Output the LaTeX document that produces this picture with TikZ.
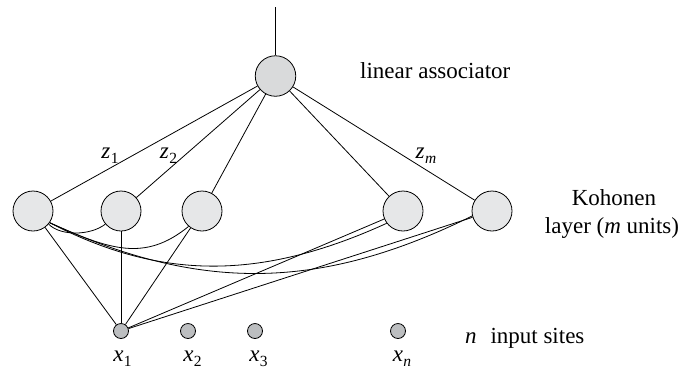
\documentclass[tikz,border=0pt]{standalone}
\usepackage{fontspec}
\setmainfont{Liberation Serif}
\definecolor{kfill}{HTML}{E6E7E8}
\definecolor{afill}{HTML}{D9DADB}
\definecolor{ifill}{HTML}{BCBEC0}
\newcommand{\subl}[2]{\textit{#1}\kern0.5pt\raisebox{-5pt}{\fontsize{15.5}{15.5}\selectfont #2}}
\begin{document}
\begin{tikzpicture}[x=1pt,y=-1pt,
  kohonen/.style={circle,draw,fill=kfill,minimum size=40pt,inner sep=0pt,line width=0.8pt},
  assoc/.style={circle,draw,fill=afill,minimum size=40.5pt,inner sep=0pt,line width=0.8pt},
  inputsite/.style={circle,draw,fill=ifill,minimum size=15pt,inner sep=0pt,line width=0.8pt},
  conn/.style={line width=0.8pt},
  lbl/.style={font=\fontsize{23}{27}\selectfont,inner sep=0pt}]
\useasboundingbox (0,0) rectangle (682,373);
% nodes
\node[assoc] (a) at (275.5,76) {};
\coordinate (out) at (275.5,7);
\node[kohonen] (k1) at (33,211) {};
\node[kohonen] (k2) at (121,211) {};
\node[kohonen] (k3) at (202,211) {};
\node[kohonen] (k4) at (403,211) {};
\node[kohonen] (k5) at (492,211) {};
\node[inputsite] (i1) at (121,331) {};
\node[inputsite] (i2) at (188,331) {};
\node[inputsite] (i3) at (255,331) {};
\node[inputsite] (ixn) at (398,331) {};
% connectors
\draw[conn] (out) -- (a);
\foreach \k in {k1,k2,k3,k4,k5} {
  \draw[conn] (a) -- (\k);
  \draw[conn] (i1) -- (\k);
}
\draw[conn] (k1.-40) .. controls (60,236) and (90,236) .. (k2.-140);
\draw[conn] (k1.-35) .. controls (110,250) and (145,262) .. (k3.-131);
\draw[conn] (k1.-35) .. controls (160,280) and (260,281) .. (k4.-143);
\draw[conn] (k1.-35) .. controls (200,292) and (320,291) .. (k5.-166);
% labels
\node[lbl,anchor=base west] (la) at (360,78) {linear associator};
\node[lbl,anchor=base] (kh) at (614,205) {Kohonen};
\node[lbl,anchor=base] (ly) at (612,233) {layer (\textit{m} units)};
\node[lbl,anchor=base west] (ns) at (465,343) {\textit{n}\hspace{0.6em}input sites};
\node[lbl,anchor=base] (lx1) at (122.5,361) {\subl{x}{1}};
\node[lbl,anchor=base] (lx2) at (192.5,361) {\subl{x}{2}};
\node[lbl,anchor=base] (lx3) at (258.5,361) {\subl{x}{3}};
\node[lbl,anchor=base] (lxn) at (402,361) {\subl{x}{\textit{n}}};
\node[lbl,anchor=base] (lz1) at (110,158) {\subl{z}{1}};
\node[lbl,anchor=base] (lz2) at (168.5,158) {\subl{z}{2}};
\node[lbl,anchor=base] (lzm) at (426,158) {\subl{z}{\textit{m}}};
\end{tikzpicture}
\end{document}
